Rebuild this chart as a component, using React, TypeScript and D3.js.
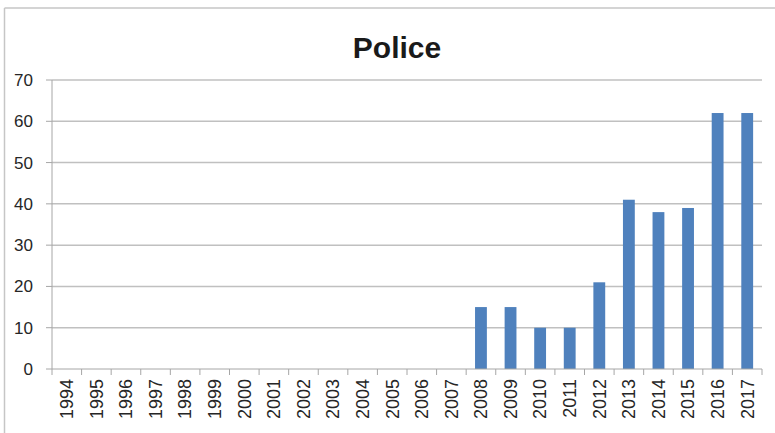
import * as d3 from 'd3';
import React from 'react';

const years = [
  "1994", "1995", "1996", "1997", "1998", "1999", "2000", "2001", "2002", "2003", "2004", "2005",
  "2006", "2007", "2008", "2009", "2010", "2011", "2012", "2013", "2014", "2015", "2016", "2017",
];
const counts = [0, 0, 0, 0, 0, 0, 0, 0, 0, 0, 0, 0, 0, 0, 15, 15, 10, 10, 21, 41, 38, 39, 62, 62];
const yTicks = [0, 10, 20, 30, 40, 50, 60, 70];
const title = "Police";

const W = 775;
const H = 433;
const left = 52;
const right = 762;
const top = 80;
const bottom = 369;

function App() {
  const x = d3.scaleBand<string>()
    .domain(years)
    .range([left, right])
    .paddingInner(0.6)
    .paddingOuter(0.3);
  const y = d3.scaleLinear().domain([0, 70]).range([bottom, top]);
  const step = x.step();
  const edges = d3.range(years.length + 1).map(i => left + i * step);

  return (
    <svg width={W} height={H} style={{ position: 'absolute', left: 0, top: 0 }}
      fontFamily="'Liberation Sans', Arial, sans-serif">
      <rect x={0} y={0} width={W} height={H} fill="#fff" />
      {/* chart frame */}
      <line x1={4.5} x2={W} y1={8} y2={8} stroke="#c6c6c6" strokeWidth={1.5} />
      <line x1={4.5} x2={4.5} y1={8} y2={H} stroke="#c6c6c6" strokeWidth={1.5} />

      <text x={397} y={58} textAnchor="middle" fontSize={30} fontWeight="bold" fill="#1a1a1a">{title}</text>

      {/* gridlines */}
      {yTicks.filter(t => t > 0).map(t => (
        <line key={t} x1={left} x2={right} y1={y(t)} y2={y(t)} stroke="#c0c0c0" strokeWidth={1.5} />
      ))}

      {/* y ticks */}
      {yTicks.map(t => (
        <g key={t}>
          <line x1={left - 6} x2={left} y1={y(t)} y2={y(t)} stroke="#a6a6a6" />
          <text x={33} y={y(t)} dy="0.35em" textAnchor="end" fontSize={17} fill="#262626">{t}</text>
        </g>
      ))}

      {/* bars */}
      {years.map((yr, i) => counts[i] > 0 && (
        <rect key={yr} x={x(yr)} y={y(counts[i])} width={x.bandwidth()} height={y(0) - y(counts[i])} fill="#4f81bd" />
      ))}

      {/* axes */}
      <line x1={left} x2={left} y1={top} y2={bottom} stroke="#a6a6a6" />
      <line x1={left} x2={right} y1={bottom} y2={bottom} stroke="#a6a6a6" />
      {edges.map((e, i) => (
        <line key={i} x1={e} x2={e} y1={bottom} y2={bottom + 6} stroke="#a6a6a6" />
      ))}

      {/* x labels */}
      {years.map(yr => {
        const cx = (x(yr) ?? 0) + x.bandwidth() / 2;
        return (
          <text key={yr} transform={`translate(${cx},379) rotate(-90)`} dy="0.35em"
            textAnchor="end" fontSize={18} fill="#262626">{yr}</text>
        );
      })}
    </svg>
  );
}

export default App;
